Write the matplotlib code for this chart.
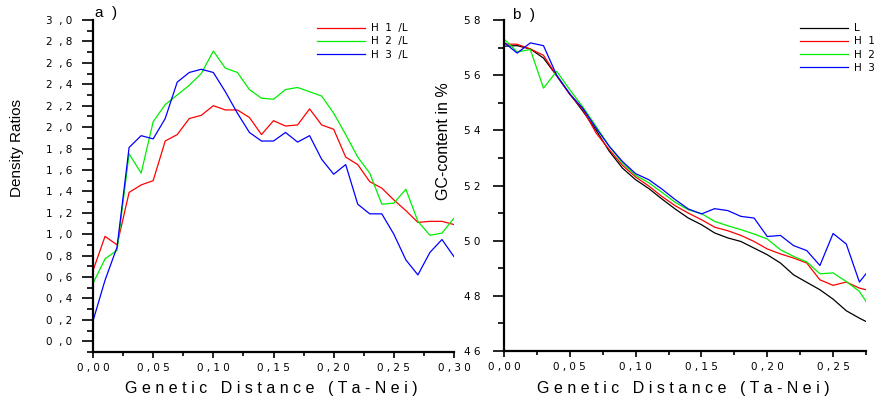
import matplotlib
matplotlib.use("Agg")
import matplotlib.pyplot as plt
import matplotlib.ticker as mticker

plt.rcParams['font.family'] = ['Liberation Sans', 'DejaVu Sans']

# panel a: density ratios
dist_a = [0.00, 0.01, 0.02, 0.03, 0.04, 0.05, 0.06, 0.07, 0.08, 0.09, 0.10,
          0.11, 0.12, 0.13, 0.14, 0.15, 0.16, 0.17, 0.18, 0.19, 0.20,
          0.21, 0.22, 0.23, 0.24, 0.25, 0.26, 0.27, 0.28, 0.29, 0.30]
h1_l = [0.66, 0.98, 0.90, 1.39, 1.46, 1.50, 1.87, 1.93, 2.08, 2.11, 2.20,
        2.16, 2.16, 2.09, 1.93, 2.06, 2.01, 2.02, 2.17, 2.02, 1.98,
        1.72, 1.65, 1.49, 1.43, 1.32, 1.22, 1.11, 1.12, 1.12, 1.09]
h2_l = [0.54, 0.77, 0.85, 1.75, 1.57, 2.05, 2.21, 2.30, 2.39, 2.50, 2.71,
        2.55, 2.51, 2.35, 2.27, 2.26, 2.35, 2.37, 2.33, 2.29, 2.13,
        1.93, 1.72, 1.57, 1.28, 1.29, 1.42, 1.12, 0.99, 1.01, 1.15]
h3_l = [0.19, 0.57, 0.88, 1.81, 1.92, 1.89, 2.08, 2.42, 2.51, 2.54, 2.51,
        2.33, 2.13, 1.95, 1.87, 1.87, 1.95, 1.86, 1.92, 1.70, 1.56,
        1.65, 1.28, 1.19, 1.19, 1.00, 0.76, 0.62, 0.83, 0.95, 0.79]

# panel b: GC content
dist_b = [0.00, 0.01, 0.02, 0.03, 0.04, 0.05, 0.06, 0.07, 0.08, 0.09, 0.10,
          0.11, 0.12, 0.13, 0.14, 0.15, 0.16, 0.17, 0.18, 0.19, 0.20,
          0.21, 0.22, 0.23, 0.24, 0.25, 0.26, 0.27, 0.28]
gc_l = [57.05, 57.07, 56.95, 56.62, 55.98, 55.32, 54.69, 54.00, 53.24, 52.63, 52.21,
        51.89, 51.51, 51.15, 50.82, 50.58, 50.28, 50.10, 49.97, 49.73, 49.49,
        49.19, 48.76, 48.49, 48.22, 47.88, 47.46, 47.19, 46.95]
gc_h1 = [57.13, 57.12, 56.95, 56.72, 55.98, 55.30, 54.75, 53.90, 53.30, 52.73, 52.31,
         51.98, 51.60, 51.27, 51.00, 50.76, 50.49, 50.36, 50.19, 49.97, 49.70,
         49.52, 49.37, 49.19, 48.58, 48.38, 48.50, 48.28, 48.16]
gc_h2 = [57.31, 56.84, 56.93, 55.53, 56.14, 55.47, 54.84, 54.14, 53.42, 52.81, 52.37,
         52.10, 51.75, 51.39, 51.12, 50.98, 50.70, 50.54, 50.40, 50.24, 50.06,
         49.67, 49.43, 49.23, 48.80, 48.83, 48.52, 48.16, 47.44]
gc_h3 = [57.19, 56.80, 57.17, 57.07, 56.00, 55.32, 54.79, 54.08, 53.42, 52.87, 52.43,
         52.21, 51.87, 51.49, 51.15, 50.97, 51.16, 51.09, 50.88, 50.82, 50.15,
         50.19, 49.82, 49.64, 49.10, 50.26, 49.88, 48.50, 49.10]

RED, GREEN, BLUE = '#ff0000', '#00ee00', '#0000ff'
TICK_FS = 7.5
TICK_FONT = ['DejaVu Sans']
XTITLE = "G e n e t i c   D i s t a n c e   ( T a - N e i )"


def x_fmt(v, pos):
    a, b = ("%.2f" % v).split('.')
    return a + " , " + b[0] + " " + b[1]


def y_fmt(v, pos):
    a, b = ("%.1f" % v).split('.')
    return a + "  , " + b


def style_axes(ax):
    for s in ['top', 'right']:
        ax.spines[s].set_visible(False)
    for s in ['left', 'bottom']:
        ax.spines[s].set_linewidth(1.6)
    ax.tick_params(axis='y', which='major', length=8, width=1.2, pad=7, labelsize=TICK_FS)
    ax.tick_params(axis='y', which='minor', length=4.5, width=1.2)
    ax.tick_params(axis='x', which='major', length=4, width=1.2, pad=4, labelsize=TICK_FS)
    ax.tick_params(axis='x', which='minor', length=3, width=1.2)
    for lab in ax.get_xticklabels() + ax.get_yticklabels():
        lab.set_family(TICK_FONT)


fig = plt.figure(figsize=(8.75, 4), dpi=100)

# ---- a)
ax1 = fig.add_axes([93 / 875, 48 / 400, 361 / 875, 332 / 400])
ax1.plot(dist_a, h1_l, color=RED, lw=0.9, label="H  1  /L")
ax1.plot(dist_a, h2_l, color=GREEN, lw=0.9, label="H  2  /L")
ax1.plot(dist_a, h3_l, color=BLUE, lw=0.9, label="H  3  /L")
ax1.set_xlim(0, 0.30)
ax1.set_ylim(-0.1, 3.0)
ax1.xaxis.set_major_locator(mticker.MultipleLocator(0.05))
ax1.xaxis.set_minor_locator(mticker.MultipleLocator(0.025))
ax1.yaxis.set_major_locator(mticker.MultipleLocator(0.2))
ax1.yaxis.set_minor_locator(mticker.MultipleLocator(0.1))
ax1.xaxis.set_major_formatter(mticker.FuncFormatter(x_fmt))
ax1.yaxis.set_major_formatter(mticker.FuncFormatter(y_fmt))
style_axes(ax1)
ax1.legend(loc='upper left', bbox_to_anchor=(0.62, 0.99), frameon=False,
           prop={'family': TICK_FONT, 'size': TICK_FS}, handlelength=4.6,
           handletextpad=0.6, labelspacing=0.3, borderpad=0, borderaxespad=0)
fig.text(95 / 875, 1 - 13 / 400, "a  )", fontsize=11, va='center', ha='left')
fig.text(17 / 875, 1 - 148 / 400, "Density Ratios", fontsize=11, rotation=90,
         ha='center', va='center')
fig.text(271 / 875, 1 - 389 / 400, XTITLE, fontsize=11.5, ha='center', va='center')

# ---- b)
ax2 = fig.add_axes([504 / 875, 49 / 400, 362 / 875, 331 / 400])
ax2.plot(dist_b, gc_l, color='black', lw=0.9, label="L")
ax2.plot(dist_b, gc_h1, color=RED, lw=0.9, label="H  1")
ax2.plot(dist_b, gc_h2, color=GREEN, lw=0.9, label="H  2")
ax2.plot(dist_b, gc_h3, color=BLUE, lw=0.9, label="H  3")
ax2.set_xlim(0, 0.275)
ax2.set_ylim(46, 58)
ax2.xaxis.set_major_locator(mticker.MultipleLocator(0.05))
ax2.xaxis.set_minor_locator(mticker.MultipleLocator(0.025))
ax2.yaxis.set_major_locator(mticker.MultipleLocator(2))
ax2.yaxis.set_minor_locator(mticker.MultipleLocator(1))
ax2.xaxis.set_major_formatter(mticker.FuncFormatter(x_fmt))
ax2.yaxis.set_major_formatter(mticker.FuncFormatter(lambda v, p: " ".join("%d" % v)))
style_axes(ax2)
ax2.tick_params(axis='y', which='major', pad=9)
ax2.legend(loc='upper left', bbox_to_anchor=(0.818, 0.99), frameon=False,
           prop={'family': TICK_FONT, 'size': TICK_FS}, handlelength=4.6,
           handletextpad=0.6, labelspacing=0.3, borderpad=0, borderaxespad=0)
fig.text(513 / 875, 1 - 15 / 400, "b  )", fontsize=11, va='center', ha='left')
fig.text(443 / 875, 1 - 141 / 400, "GC-content in %", fontsize=11.5, rotation=90,
         ha='center', va='center')
fig.text(683 / 875, 1 - 389 / 400, XTITLE, fontsize=11.5, ha='center', va='center')

fig.savefig("out.png", dpi=100)
